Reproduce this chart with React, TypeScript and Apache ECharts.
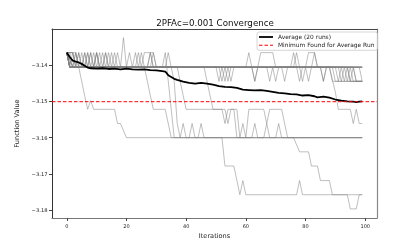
import { useEffect, useRef } from "react";
import * as echarts from "echarts";

// objective levels visited by the runs
const L0 = -3.1325;
const L1 = -3.1366;
const L2 = -3.1406;
const L3 = -3.1445;
const La = -3.1522;
const Lb = -3.1561;
const Lc = -3.16;
const Ld = -3.1639;
const Le = -3.1678;
const Lf = -3.1718;
const Lg = -3.1757;
const Lh = -3.1796;

const iterationTicks = [0, 20, 40, 60, 80, 100];
const valueTicks = [-3.18, -3.17, -3.16, -3.15, -3.14];
const minimumFound = -3.1501;

// each run: polyline vertices [iteration, function value]
const runA = [[0, L1], [1, L2], [4, L2], [5, L3], [6, -3.1485], [7, La], [8, -3.1498], [9, La], [16, La], [17, Lb], [18, Lb], [20, Lc], [99, Lc]];
const runB = [[0, L1], [2, L2], [3, L1], [4, L2], [9, L2], [10, L1], [11, L2], [26, L2], [27, L3], [28, -3.1484], [29, La], [33, La], [35, Lc], [99, Lc]];
const runC = [[0, L1], [1, L2], [6, L2], [7, L1], [8, L2], [32, L2], [33, L1], [35, La], [36, Lc], [38, Lc], [39, Lb], [40, Lc], [44, Lc], [45, Lb], [46, Lc], [52, Lc], [53, Le], [56, Le], [58, Lg], [59, Lf], [60, Lg], [77, Lg], [78, Lf], [79, Lg], [99, Lg]];
const runD = [[0, L1], [1, L2], [12, L2], [13, L1], [14, L2], [35, L2], [36, L3], [37, Lb], [38, Lc], [41, Lc], [42, Lb], [43, Lc], [76, Lc], [78, Ld], [81, Ld], [82, Le], [84, Le], [85, Lf], [88, Lf], [89, Lg], [94, Lg], [95, Lh], [97, Lh], [98, Lg], [99, Lg]];
const runE = [[0, L1], [1, L2], [3, L2], [4, L1], [5, L2], [18, L2], [19, L0], [20, L2], [37, L2], [38, L3], [39, -3.1484], [40, La], [53, La], [54, Lb], [55, La], [57, La], [58, Lc], [59, Lb], [60, Lc], [61, La], [66, La], [67, Lb], [68, La], [72, La], [73, Lb], [74, Lc], [99, Lc]];
const runF = [[0, L1], [2, L2], [7, L2], [8, L1], [9, L2], [46, L2], [47, L3], [48, -3.1484], [49, La], [52, La], [53, Lb], [54, La], [56, La], [57, Lc], [62, Lc], [63, Lb], [64, Lc], [66, Lc], [67, Lb], [68, Lc], [70, Lc], [71, Lb], [72, Lc], [99, Lc]];
const runG = [[0, L1], [1, L2], [9, L2], [10, L1], [11, L2], [27, L2], [28, L1], [29, L2], [88, L2], [90, -3.1475], [91, La], [95, La], [96, Lb], [97, La], [98, Lb], [99, Lb]];
const runH = [[0, L1], [1, L2], [2, L1], [3, L2], [10, L2], [11, L1], [12, L2], [22, L2], [23, L1], [24, L2], [60, L2], [61, L1], [62, L2], [99, L2]];
const runI = [[0, L1], [2, L1], [3, L2], [5, L2], [6, L1], [7, L2], [27, L2], [28, L1], [29, L2], [51, L2], [52, L3], [53, L2], [54, L3], [55, L2], [92, L2], [93, L3], [94, L2], [95, L3], [99, L3]];
const runJ = [[0, L1], [1, L2], [8, L2], [9, L1], [10, L2], [25, L2], [26, L1], [29, L1], [30, L2], [64, L2], [65, L1], [69, L1], [70, L2], [99, L2]];
const runK = [[0, L1], [3, L1], [4, L2], [13, L2], [14, L1], [15, L2], [62, L2], [63, L3], [64, L2], [78, L2], [79, L3], [80, L2], [81, L3], [82, L2], [89, L2], [90, L3], [99, L3]];
const runL = [[0, L1], [1, L2], [4, L2], [5, L1], [6, L2], [15, L2], [16, L1], [17, L2], [76, L2], [77, L1], [78, L2], [94, L2], [95, L3], [96, L2], [97, L3], [99, L3]];
const runM = [[0, L1], [2, L2], [12, L2], [13, L1], [14, L2], [33, L2], [34, L1], [35, L2], [67, L2], [68, L3], [69, L2], [72, L2], [73, L3], [74, L2], [99, L2]];
const runN = [[0, L1], [1, L2], [6, L2], [7, L1], [8, L2], [20, L2], [21, L1], [22, L2], [82, L2], [83, L1], [84, L2], [91, L2], [92, L3], [93, L2], [96, L2], [97, L3], [99, L3]];
const runO = [[0, L1], [1, L1], [2, L2], [9, L2], [10, L1], [11, L2], [24, L2], [25, L1], [26, L2], [69, L2], [70, L3], [71, L2], [85, L2], [86, L3], [87, L2], [99, L2]];
const runP = [[0, L1], [1, L2], [3, L2], [4, L1], [5, L2], [52, L2], [53, L3], [54, L2], [55, L3], [56, L2], [75, L2], [76, L1], [77, L2], [88, L2], [89, L3], [99, L3]];
const runQ = [[0, L1], [2, L1], [3, L2], [11, L2], [12, L1], [13, L2], [28, L2], [29, L1], [30, L2], [80, L2], [81, L1], [83, L1], [84, L2], [93, L2], [94, L3], [95, L2], [98, L2], [99, L3]];
const runR = [[0, L1], [1, L2], [7, L2], [8, L1], [9, L2], [14, L2], [15, L1], [16, L2], [77, L2], [78, L3], [79, L2], [99, L2]];
const runS = [[0, L1], [1, L2], [2, L2], [3, L1], [4, L2], [23, L2], [24, L1], [25, L2], [62, L2], [63, L3], [64, L2], [99, L2]];
const runT = [[0, L1], [1, L2], [5, L2], [6, L1], [7, L2], [16, L2], [17, L1], [18, L2], [50, L2], [51, L3], [52, L2], [85, L2], [86, L3], [87, L2], [90, L2], [91, L3], [92, L2], [95, L2], [96, L3], [99, L3]];

const runs = [runA, runB, runC, runD, runE, runF, runG, runH, runI, runJ, runK, runL, runM, runN, runO, runP, runQ, runR, runS, runT];

// average of the 20 runs
const average = [
  [0, -3.1366], [1, -3.1378], [2, -3.1388], [3, -3.1391], [4, -3.1393], [5, -3.1397], [6, -3.1402], [7, -3.1407],
  [8, -3.1409], [10, -3.141], [12, -3.1409], [14, -3.1411], [16, -3.141], [18, -3.1412], [20, -3.141], [22, -3.1412],
  [24, -3.1413], [26, -3.1412], [28, -3.1414], [30, -3.1415], [32, -3.1417], [33, -3.1418], [34, -3.1428], [35, -3.1433],
  [36, -3.1438], [37, -3.1441], [39, -3.1446], [41, -3.1449], [43, -3.1451], [45, -3.1449], [47, -3.1451], [49, -3.1454],
  [51, -3.1458], [53, -3.146], [55, -3.1461], [57, -3.1463], [59, -3.1468], [61, -3.1469], [63, -3.147], [65, -3.1469],
  [67, -3.1471], [69, -3.1474], [71, -3.1477], [73, -3.1478], [75, -3.148], [77, -3.1481], [79, -3.1484], [81, -3.1483],
  [83, -3.1486], [84, -3.1489], [86, -3.1487], [88, -3.149], [90, -3.1495], [92, -3.1498], [94, -3.15], [96, -3.1501],
  [97, -3.1502], [98, -3.1501], [99, -3.15],
];

const X_MIN = -4.95;
const X_MAX = 103.95;
const Y_MIN = -3.1821;
const Y_MAX = -3.1301;

const FONT = "DejaVu Sans";

export default function App() {
  const ref = useRef<HTMLDivElement>(null);
  useEffect(() => {
    document.body.style.margin = "0";
    const chart = echarts.init(ref.current!, null, { renderer: "svg" });
    const fmtY = (v: number) => (v < 0 ? "\u2212" : "") + Math.abs(v).toFixed(2);
    const series: any[] = runs.map((r, i) => ({
      name: "run" + (i + 1),
      type: "line",
      data: r,
      symbol: "none",
      silent: true,
      itemStyle: { color: "#808080" },
      lineStyle: { color: "#808080", width: 1, opacity: 0.5 },
      z: 1,
    }));
    series.push({
      name: "Average (20 runs)",
      type: "line",
      data: average,
      symbol: "none",
      itemStyle: { color: "#000" },
      lineStyle: { color: "#000", width: 1.8 },
      z: 3,
    });
    series.push({
      name: "Minimum Found for Average Run",
      type: "line",
      data: [[X_MIN, minimumFound], [X_MAX, minimumFound]],
      symbol: "none",
      itemStyle: { color: "#ff0000" },
      lineStyle: { color: "#ff0000", width: 1, type: [3.5, 2] },
      z: 4,
    });
    chart.setOption({
      animation: false,
      title: {
        text: "2PFAc=0.001 Convergence",
        left: 215,
        top: 18,
        textAlign: "center",
        padding: 0,
        textStyle: { fontSize: 8.7, fontWeight: "normal", color: "#111", fontFamily: FONT },
      },
      legend: {
        data: [
          { name: "Average (20 runs)", icon: "path://M0,0h14v1.8h-14z" },
          { name: "Minimum Found for Average Run", icon: "path://M0,0h3.5v1h-3.5zM5.5,0h3.5v1h-3.5zM11,0h3v1h-3z" },
        ],
        orient: "vertical",
        left: 257,
        top: 32,
        itemWidth: 14,
        itemHeight: 7,
        itemGap: 1.3,
        padding: [1.5, 3, 1.5, 2],
        backgroundColor: "rgba(255,255,255,0.8)",
        borderColor: "#ccc",
        borderWidth: 0.8,
        borderRadius: 2,
        textStyle: { fontSize: 5.9, color: "#222", fontFamily: FONT, lineHeight: 7 },
      },
      grid: { left: 52, top: 29, width: 325, height: 189, containLabel: false },
      xAxis: [
        {
          type: "value",
          min: X_MIN,
          max: X_MAX,
          position: "bottom",
          splitLine: { show: false },
          axisLine: { show: true, onZero: false, lineStyle: { color: "#777", width: 1.2 } },
          axisTick: { show: true, customValues: iterationTicks, length: 3, lineStyle: { color: "#444" } },
          axisLabel: { customValues: iterationTicks, fontSize: 5, margin: 5, color: "#222", fontFamily: FONT },
          name: "Iterations",
          nameLocation: "middle",
          nameGap: 11,
          nameTextStyle: { fontSize: 6.6, color: "#222", fontFamily: FONT },
        },
        {
          type: "value",
          min: X_MIN,
          max: X_MAX,
          position: "top",
          splitLine: { show: false },
          axisLine: { show: true, onZero: false, lineStyle: { color: "#444", width: 1 } },
          axisTick: { show: false },
          axisLabel: { show: false },
        },
      ],
      yAxis: [
        {
          type: "value",
          min: Y_MIN,
          max: Y_MAX,
          position: "left",
          splitLine: { show: false },
          axisLine: { show: true, onZero: false, lineStyle: { color: "#333", width: 1 } },
          axisTick: { show: true, customValues: valueTicks, length: 3, lineStyle: { color: "#444" } },
          axisLabel: { customValues: valueTicks, fontSize: 5.2, margin: 4.5, color: "#222", fontFamily: FONT, formatter: fmtY },
          name: "Function Value",
          nameLocation: "middle",
          nameGap: 23,
          nameTextStyle: { fontSize: 6.6, color: "#222", fontFamily: FONT },
        },
        {
          type: "value",
          min: Y_MIN,
          max: Y_MAX,
          position: "right",
          splitLine: { show: false },
          axisLine: { show: true, onZero: false, lineStyle: { color: "#888", width: 1.2 } },
          axisTick: { show: false },
          axisLabel: { show: false },
        },
      ],
      series,
    });
    return () => chart.dispose();
  }, []);
  return <div ref={ref} style={{ position: "fixed", left: 0, top: 0, width: 420, height: 245 }} />;
}
